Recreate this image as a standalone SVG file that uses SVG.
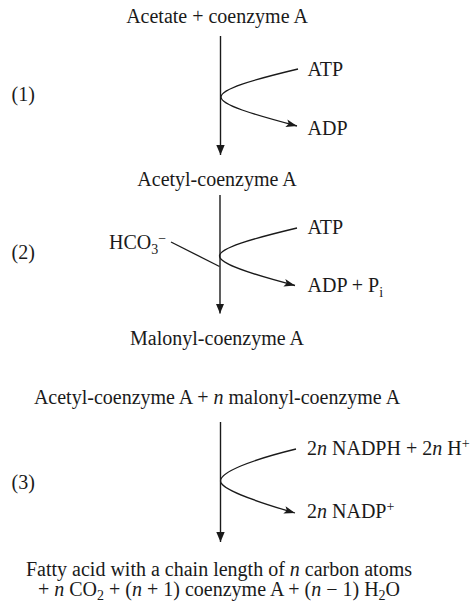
<svg xmlns="http://www.w3.org/2000/svg" width="473" height="603" viewBox="0 0 473 603">
  <style>
    text { font-family: "Liberation Serif", "Times New Roman", serif; font-size: 20px; fill: #1a1a1a; }
    .mid { text-anchor: middle; }
    .it { font-style: italic; }
    .sm { font-size: 14px; }
    .main { fill: none; stroke: #1a1a1a; stroke-width: 1.4; }
    .side { fill: none; stroke: #1a1a1a; stroke-width: 1.3; }
  </style>
  <defs>
    <marker id="head" markerUnits="userSpaceOnUse" markerWidth="12" markerHeight="12" refX="10" refY="5" orient="auto" viewBox="0 0 12 10">
      <path d="M0,0.8 L10,5 L0,9.2 Z" fill="#1a1a1a"/>
    </marker>
    <marker id="barb" markerUnits="userSpaceOnUse" markerWidth="12" markerHeight="10" refX="11" refY="4.5" orient="auto" viewBox="0 0 12 9">
      <path d="M0,0.6 L11,4.5 L0,8.4 L2.5,4.5 Z" fill="#1a1a1a"/>
    </marker>
  </defs>

  <rect width="473" height="603" fill="#ffffff"/>

  <!-- step labels -->
  <g id="label-1"><text x="11.5" y="101">(1)</text></g>
  <g id="label-2"><text x="11.5" y="258.5">(2)</text></g>
  <g id="label-3"><text x="11.5" y="488.5">(3)</text></g>

  <!-- compounds -->
  <g id="acetate"><text class="mid" x="217" y="23">Acetate + coenzyme A</text></g>
  <g id="atp-1"><text x="307.5" y="75.5">ATP</text></g>
  <g id="adp-1"><text x="307.5" y="135">ADP</text></g>
  <g id="acetyl-coa"><text class="mid" x="217" y="186">Acetyl-coenzyme A</text></g>
  <g id="bicarbonate"><text x="109" y="248.5">HCO<tspan class="sm" dy="5">3</tspan><tspan class="sm" dy="-11">−</tspan></text></g>
  <g id="atp-2"><text x="307.5" y="233.5">ATP</text></g>
  <g id="adp-pi"><text x="307.5" y="291.5">ADP + P<tspan class="sm" dy="5">i</tspan></text></g>
  <g id="malonyl-coa"><text class="mid" x="217" y="345">Malonyl-coenzyme A</text></g>
  <g id="substrates-3"><text class="mid" x="217" y="404">Acetyl-coenzyme A + <tspan class="it">n</tspan> malonyl-coenzyme A</text></g>
  <g id="nadph"><text x="307" y="455">2<tspan class="it">n</tspan> NADPH + 2<tspan class="it">n</tspan> H<tspan class="sm" dy="-7">+</tspan></text></g>
  <g id="nadp"><text x="307" y="518">2<tspan class="it">n</tspan> NADP<tspan class="sm" dy="-7">+</tspan></text></g>
  <g id="fatty-acid">
    <text class="mid" x="219" y="576">Fatty acid with a chain length of <tspan class="it">n</tspan> carbon atoms</text>
    <text class="mid" x="219" y="595.5">+ <tspan class="it">n</tspan> CO<tspan class="sm" dy="4">2</tspan><tspan dy="-4"> + (</tspan><tspan class="it">n</tspan> + 1) coenzyme A + (<tspan class="it">n</tspan> − 1) H<tspan class="sm" dy="4">2</tspan><tspan dy="-4">O</tspan></text>
  </g>

  <!-- reaction arrows and side branches -->
  <g id="connectors">
    <line class="main" x1="220.5" y1="36" x2="220.5" y2="155" marker-end="url(#head)"/>
    <path class="side" d="M298,69 C252,80 221,89 221,97 C221,105 252,114 297,126" marker-end="url(#barb)"/>

    <line class="main" x1="220" y1="195" x2="220" y2="313.5" marker-end="url(#head)"/>
    <path class="side" d="M297,228 C251,239 219.5,248 219.5,256 C219.5,264 251,274 295,285.5" marker-end="url(#barb)"/>
    <line class="side" x1="171" y1="242" x2="219.5" y2="266.5"/>

    <line class="main" x1="220.5" y1="422" x2="220.5" y2="542" marker-end="url(#head)"/>
    <path class="side" d="M296,449 C251,460 220.5,472 220.5,481 C220.5,489 251,500 295,513" marker-end="url(#barb)"/>
  </g>
</svg>
